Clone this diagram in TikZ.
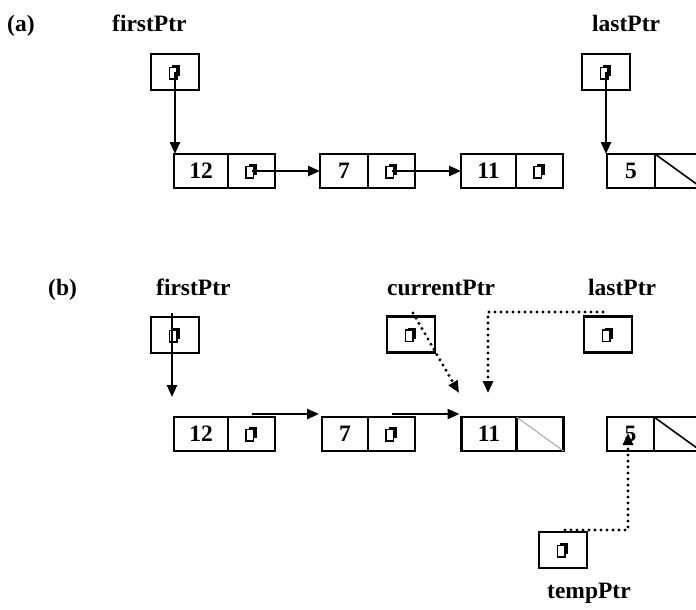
\documentclass[tikz,border=0pt]{standalone}
\usepackage{fontspec}
\setmainfont{Liberation Serif}
\usetikzlibrary{arrows.meta,positioning}

\tikzset{
handle/.pic={
	\fill (-3,-7) rectangle (5,4);
	\filldraw[fill=white, draw=black, line width=1.6pt] (-5.5,-4.5) rectangle (2,7);
}
}

\begin{document}
\begin{tikzpicture}[x=1pt, y=-1pt,
lbl/.style={font=\fontsize{23.5}{28}\selectfont\bfseries, inner sep=0pt, anchor=base west},
rectPtr/.style={rectangle, draw=black, line width=2.5pt, minimum width=48pt, minimum height=36pt, outer sep=0pt, inner sep=0pt},
rectData/.style={rectangle, draw=black, line width=2.5pt, minimum height=34pt, outer sep=0pt, inner sep=0pt, font=\fontsize{23.5}{28}\selectfont\bfseries},
rectLink/.style={rectangle, draw=black, line width=2.5pt, minimum width=47pt, minimum height=34pt, outer sep=0pt, inner sep=0pt},
solidArrow/.style={-{Triangle[length=12pt,width=10pt]}, line width=2.4pt},
dotArrow/.style={-{Triangle[length=12pt,width=10pt]}, line width=3.3pt, dash pattern=on 0pt off 6pt, line cap=round}
]
\useasboundingbox (0,0) rectangle (696,610);

% (a) before the insertion
\node[lbl] (labelA) at (7,32) {(a)};
\node[lbl] (firstA) at (112,32) {firstPtr};
\node[lbl] (lastA) at (592,32) {lastPtr};

\node[rectPtr] (firstPtrA) at (175,72) {};
\node[rectPtr] (lastPtrA) at (606,72) {};
\pic at (firstPtrA.center) {handle};
\pic at (lastPtrA.center) {handle};

\node[rectData, minimum width=54pt] (a12) at (201,171) {12};
\node[rectLink, right=0pt of a12] (a12p) {};
\node[rectData, minimum width=48pt] (a7) at (344,171) {7};
\node[rectLink, right=0pt of a7] (a7p) {};
\node[rectData, minimum width=55pt] (a11) at (488.5,171) {11};
\node[rectLink, right=0pt of a11] (a11p) {};
\node[rectData, minimum width=48pt] (a5) at (631,171) {5};
\node[rectLink, right=0pt of a5] (a5p) {};

\pic at (a12p.center) {handle};
\pic at (a7p.center) {handle};
\pic at (a11p.center) {handle};
\draw[line width=1.6pt] (a5p.north west) -- (a5p.south east);

\draw[solidArrow] (firstPtrA.center) -- (firstPtrA.center |- a12.north);
\draw[solidArrow] (a12p.center) -- (a7.west);
\draw[solidArrow] (a7p.center) -- (a11.west);
\draw[solidArrow] (lastPtrA.center) -- (lastPtrA.center |- a5.north);

% (b) after the insertion
\node[lbl] (labelB) at (48,295) {(b)};
\node[lbl] (firstB) at (156,295) {firstPtr};
\node[lbl] (currentB) at (387,295) {currentPtr};
\node[lbl] (lastB) at (588,295) {lastPtr};
\node[lbl] (tempB) at (547,598) {tempPtr};

\node[rectPtr] (firstPtrB) at (175,335) {};
\node[rectPtr] (currentPtrB) at (411,334.5) {};
\node[rectPtr] (lastPtrB) at (608,334.5) {};
\node[rectPtr] (tempPtrB) at (563,550) {};
\pic at (firstPtrB.center) {handle};
\pic at (currentPtrB.center) {handle};
\pic at (lastPtrB.center) {handle};
\pic at (tempPtrB.center) {handle};

\node[rectData, minimum width=54pt] (b12) at (201,434) {12};
\node[rectLink, right=0pt of b12] (b12p) {};
\node[rectData, minimum width=46pt] (b7) at (345,434) {7};
\node[rectLink, right=0pt of b7] (b7p) {};
\node[rectData, minimum width=55pt] (b11) at (489,434) {11};
\node[rectLink, right=0pt of b11] (b11p) {};
\node[rectData, minimum width=47pt] (b5) at (630.5,434) {5};
\node[rectLink, right=0pt of b5] (b5p) {};

\pic at (b12p.center) {handle};
\pic at (b7p.center) {handle};
\draw[gray!70, line width=1pt] (b11p.north west) -- (b11p.south east);
\draw[line width=1.6pt] (b5p.north west) -- (b5p.south east);

\coordinate (firstTail) at (172,313);
\coordinate (firstHead) at (172,397);
\coordinate (currentTail) at (413,313);
\coordinate (currentHead) at (459,393);
\coordinate (lastTail) at (603,312);
\coordinate (lastBend) at (488,312);
\coordinate (lastHead) at (488,393);
\coordinate (tempTail) at (565,530);
\coordinate (tempBend) at (628,530);
\coordinate (tempHead) at (628,433);

\draw[solidArrow] (firstTail) -- (firstHead);
\draw[solidArrow] ([yshift=3pt]b12p.north) -- ([yshift=3pt,xshift=-3pt]b7.north west);
\draw[solidArrow] ([yshift=3pt]b7p.north) -- ([yshift=3pt,xshift=-2pt]b11.north west);

\draw[dotArrow] (currentTail) -- (currentHead);
\draw[dotArrow] (lastTail) -- (lastBend) -- (lastHead);
\draw[dotArrow] (tempTail) -- (tempBend) -- (tempHead);

\end{tikzpicture}
\end{document}
